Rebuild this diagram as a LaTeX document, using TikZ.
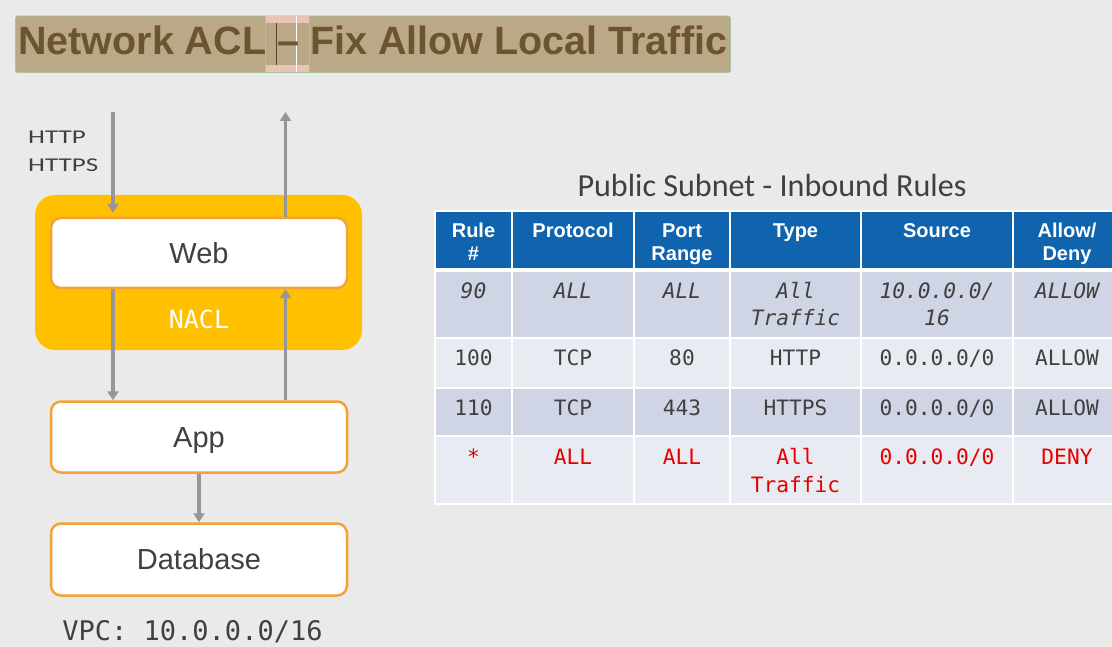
\documentclass[tikz,border=0pt]{standalone}
\usepackage{fontspec}
\setmainfont{Liberation Sans}
\newfontfamily\monof{DejaVu Sans Mono}
\newfontfamily\handf{Carlito}
\usetikzlibrary{arrows.meta}
\definecolor{bg}{RGB}{234,234,234}
\definecolor{titlebg}{RGB}{187,168,135}
\definecolor{titlefg}{RGB}{106,84,49}
\definecolor{pinkhl}{RGB}{232,196,182}
\definecolor{greenhl}{RGB}{170,196,160}
\definecolor{naclyel}{RGB}{255,192,0}
\definecolor{boxorange}{RGB}{242,162,56}
\definecolor{arrowgray}{RGB}{150,150,150}
\definecolor{txtgray}{RGB}{64,64,64}
\definecolor{hdrblue}{RGB}{16,99,173}
\definecolor{rowdark}{RGB}{207,213,228}
\definecolor{rowlight}{RGB}{232,235,242}
\definecolor{redtxt}{RGB}{230,0,0}
\tikzset{
  tierbox/.style={draw=boxorange, line width=2.5pt, fill=white, rounded corners=10pt,
    minimum width=296pt, minimum height=70pt, inner sep=0pt, text=txtgray,
    font=\fontsize{29}{34}\selectfont, text height=20.8pt, text depth=0pt},
  arr/.style={draw=arrowgray, line width=3.5pt, -{Triangle[width=11pt,length=9pt]}},
  hdr/.style={anchor=base, inner sep=0pt, text=white, font=\bfseries\fontsize{20}{24}\selectfont},
  cellt/.style={anchor=base, inner sep=0pt, text=txtgray, font=\monof\fontsize{21.2}{26}\selectfont},
  celli/.style={cellt, font=\monof\itshape\fontsize{21.2}{26}\selectfont},
  cellr/.style={cellt, text=redtxt},
  sepline/.style={draw=white, line width=2pt}
}
\begin{document}
\begin{tikzpicture}[x=1pt,y=-1pt]
\useasboundingbox (0,0) rectangle (1112,647);
\clip (0,0) rectangle (1112,647);
\fill[bg] (0,0) rectangle (1112,647);

% title
\draw[greenhl, fill=titlebg, line width=0.6pt, rounded corners=2pt] (15.5,16) rectangle (730.5,72.5);
\fill[pinkhl] (265.5,16) rectangle (309,23.5);
\fill[pinkhl] (265.5,65) rectangle (309,72.5);
\draw[white, line width=1.5pt] (296.5,16) -- (296.5,72.5);
\draw[greenhl, line width=0.8pt] (265.5,16) -- (265.5,72.5);
\draw[greenhl, line width=0.8pt] (309,16) -- (309,72.5);
\draw[titlefg!80!black, line width=0.8pt] (276,23.5) -- (276,65);
\node[anchor=base west, inner sep=0pt, text=titlefg, font=\bfseries\fontsize{39.5}{44}\selectfont] (title) at (18,55) {Network ACL -- Fix Allow Local Traffic};

% left diagram
\node[fill=naclyel, rounded corners=20pt, minimum width=327pt, minimum height=155pt, inner sep=0pt] (nacl) at (198.5,272.5) {};
\node[tierbox] (web) at (199,253) {Web};
\node[inner sep=0pt, text=white, font=\monof\fontsize{25}{30}\selectfont, text height=18.2pt, text depth=0pt] (nacllbl) at (199,319) {NACL};
\node[tierbox, minimum height=71pt] (app) at (199,437) {App};
\node[tierbox, minimum height=72pt] (db) at (199,559.5) {Database};
\node[inner sep=0pt, text=txtgray, font=\monof\fontsize{27}{30}\selectfont, text height=19.7pt, text depth=0pt] (vpc) at (192.5,631) {VPC: 10.0.0.0/16};

\node[anchor=west, inner sep=0pt, text=txtgray, text height=12.6pt, text depth=0pt] (lhttp) at (28,137) {\scalebox{1.39}[1]{\handf\fontsize{19.5}{22}\selectfont HTTP}};
\node[anchor=west, inner sep=0pt, text=txtgray, text height=12.6pt, text depth=0pt] (lhttps) at (28,165) {\scalebox{1.39}[1]{\handf\fontsize{19.5}{22}\selectfont HTTPS}};

\coordinate (in) at (113,112);
\coordinate (out) at (285.5,112);
\draw[arr, shorten >=4pt] (in) -- (web.north -| in);
\draw[arr] (web.south -| in) -- (app.north -| in);
\draw[arr] (web.north -| out) -- (out);
\draw[arr] (app.north -| out) -- (web.south -| out);
\draw[arr] (app.south) -- (db.north);

% table title
\node[inner sep=0pt, text=txtgray] (ttitle) at (772,185) {\resizebox{389pt}{!}{\handf\fontsize{28}{32}\selectfont Public Subnet - Inbound Rules}};

% table background
\fill[hdrblue] (435,211) rectangle (1121,269);
\fill[rowdark] (435,269) rectangle (1121,338);
\fill[rowlight] (435,338) rectangle (1121,388);
\fill[rowdark] (435,388) rectangle (1121,436);
\fill[rowlight] (435,436) rectangle (1121,504);
\foreach \cx in {512,634,730,861,1013} \draw[sepline] (\cx,211) -- (\cx,504);
\foreach \ry in {338,388,436} \draw[sepline] (435,\ry) -- (1121,\ry);
\draw[draw=white, line width=3.5pt] (435,270) -- (1121,270);
\draw[draw=white, line width=1.5pt] (435,211) rectangle (1121,504);

% header
\node[hdr] (h1a) at (473.5,238) {Rule};
\node[hdr] (h1b) at (473.5,261) {\#};
\node[hdr] (h2) at (573,238) {Protocol};
\node[hdr] (h3a) at (682,238) {Port};
\node[hdr] (h3b) at (682,261) {Range};
\node[hdr] (h4) at (795.5,238) {Type};
\node[hdr] (h5) at (937,238) {Source};
\node[hdr] (h6a) at (1067,238) {Allow/};
\node[hdr] (h6b) at (1067,261) {Deny};

% row 90
\node[celli] (r1c1) at (473.5,299) {90};
\node[celli] (r1c2) at (573,299) {ALL};
\node[celli] (r1c3) at (682,299) {ALL};
\node[celli] (r1c4a) at (795.5,299) {All};
\node[celli] (r1c4b) at (795.5,326) {Traffic};
\node[celli] (r1c5a) at (937,299) {10.0.0.0/};
\node[celli] (r1c5b) at (937,326) {16};
\node[celli] (r1c6) at (1067,299) {ALLOW};

% row 100
\node[cellt] (r2c1) at (473.5,366) {100};
\node[cellt] (r2c2) at (573,366) {TCP};
\node[cellt] (r2c3) at (682,366) {80};
\node[cellt] (r2c4) at (795.5,366) {HTTP};
\node[cellt] (r2c5) at (937,366) {0.0.0.0/0};
\node[cellt] (r2c6) at (1067,366) {ALLOW};

% row 110
\node[cellt] (r3c1) at (473.5,415) {110};
\node[cellt] (r3c2) at (573,415) {TCP};
\node[cellt] (r3c3) at (682,415) {443};
\node[cellt] (r3c4) at (795.5,415) {HTTPS};
\node[cellt] (r3c5) at (937,415) {0.0.0.0/0};
\node[cellt] (r3c6) at (1067,415) {ALLOW};

% row *
\node[cellr] (r4c1) at (473.5,464) {*};
\node[cellr] (r4c2) at (573,464) {ALL};
\node[cellr] (r4c3) at (682,464) {ALL};
\node[cellr] (r4c4a) at (795.5,464) {All};
\node[cellr] (r4c4b) at (795.5,492) {Traffic};
\node[cellr] (r4c5) at (937,464) {0.0.0.0/0};
\node[cellr] (r4c6) at (1067,464) {DENY};
\end{tikzpicture}
\end{document}
